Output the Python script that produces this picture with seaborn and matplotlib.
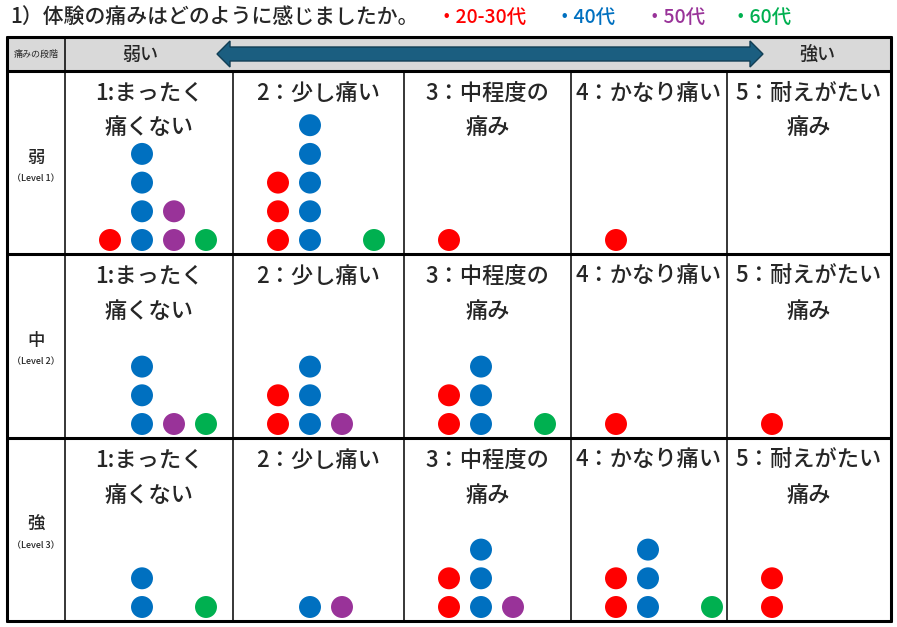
import pandas as pd
import matplotlib.pyplot as plt
import seaborn as sns
from matplotlib.patches import Rectangle, Polygon

sns.set_theme(style="white")
plt.rcParams['font.family'] = ['Noto Sans CJK JP', 'DejaVu Sans']

# data: number of respondents per cell (rows = level 1..3, cols = pain 1..5)
groups = ["20-30代", "40代", "50代", "60代"]
group_colors = ["#FF0000", "#0070C0", "#993399", "#00B050"]
counts_2030 = [[1, 3, 1, 1, 0], [0, 2, 2, 1, 1], [0, 0, 2, 2, 2]]
counts_40 = [[4, 5, 0, 0, 0], [3, 3, 3, 0, 0], [2, 1, 3, 3, 0]]
counts_50 = [[2, 0, 0, 0, 0], [1, 1, 0, 0, 0], [0, 1, 1, 0, 0]]
counts_60 = [[1, 1, 0, 0, 0], [1, 0, 1, 0, 0], [1, 0, 0, 1, 0]]

col_labels = ["1:まったく\n痛くない", "2：少し痛い", "3：中程度の\n痛み",
              "4：かなり痛い", "5：耐えがたい\n痛み"]
row_labels = ["弱", "中", "強"]
row_sub = ["（Level 1）", "（Level 2）", "（Level 3）"]

# table layout (pixels)
col_edges = [65, 233, 404, 571, 727, 891]
row_edges = [71, 254, 438, 621]
left, top = 7, 37
slot_dx = 32
stack_dy = 28.7

# build one row per dot
recs = []
for g, counts in zip(groups, [counts_2030, counts_40, counts_50, counts_60]):
    slot = groups.index(g)
    for r in range(3):
        for c in range(5):
            for k in range(counts[r][c]):
                recs.append({
                    "x": col_edges[c] + 45 + slot * slot_dx,
                    "y": row_edges[r + 1] - 14 - k * stack_dy,
                    "group": g,
                })
df = pd.DataFrame(recs)

fig = plt.figure(figsize=(8.97, 6.27), dpi=100)
ax = fig.add_axes([0, 0, 1, 1])

# header band
ax.add_patch(Rectangle((left, top), col_edges[-1] - left, row_edges[0] - top,
                       facecolor="#D9D9D9", edgecolor="none", zorder=0))

# grid lines
for y in [top] + row_edges:
    ax.plot([left, col_edges[-1]], [y, y], color="black", lw=2.2, zorder=1)
for x in [left, col_edges[-1]]:
    ax.plot([x, x], [top, row_edges[-1]], color="black", lw=2.2, zorder=1)
ax.plot([col_edges[0]] * 2, [top, row_edges[-1]], color="black", lw=1.1, zorder=1)
for x in col_edges[1:-1]:
    ax.plot([x, x], [row_edges[0], row_edges[-1]], color="black", lw=1.1, zorder=1)

# double arrow in header
ym = 54
arrow = Polygon([(217, ym), (230, ym - 13), (230, ym - 7), (750, ym - 7),
                 (750, ym - 13), (763, ym), (750, ym + 13), (750, ym + 7),
                 (230, ym + 7), (230, ym + 13)],
                closed=True, facecolor="#1B5E80", edgecolor="#123F55", lw=1, zorder=2)
ax.add_patch(arrow)
ax.text(36, ym, "痛みの段階", fontsize=6.5, ha="center", va="center")
ax.text(140, ym + 1, "弱い", fontsize=13, ha="center", va="center", fontweight="medium")
ax.text(817, ym + 1, "強い", fontsize=13, ha="center", va="center", fontweight="medium")

# column and row texts
for r in range(3):
    rt = row_edges[r]
    for c in range(5):
        cx = (col_edges[c] + col_edges[c + 1]) / 2
        for i, line in enumerate(col_labels[c].split("\n")):
            ax.text(cx, rt + 22 + i * 35, line, fontsize=16, ha="center",
                    va="center", fontweight="medium")
    ry = (row_edges[r] + row_edges[r + 1]) / 2
    ax.text(36, ry - 5, row_labels[r], fontsize=12.5, ha="center", va="center",
            fontweight="medium")
    ax.text(36, ry + 16, row_sub[r], fontsize=6.5, ha="center", va="center",
            fontweight="medium")

# dots
sns.scatterplot(data=df, x="x", y="y", hue="group", hue_order=groups,
                palette=group_colors, s=250, linewidth=0, legend=False,
                ax=ax, zorder=3)
ax.set_xlim(0, 897)
ax.set_ylim(627, 0)
ax.axis("off")

# title and colour key
ax.text(10, 17, "1）体験の痛みはどのように感じましたか。", fontsize=15,
        ha="left", va="center", fontweight="medium")
key_x = [437, 555, 644, 731]
for g, col, kx in zip(groups, group_colors, key_x):
    ax.text(kx, 17, "・" + g, fontsize=14, color=col, ha="left", va="center",
            fontweight="medium")

fig.savefig("out.png", dpi=100)
